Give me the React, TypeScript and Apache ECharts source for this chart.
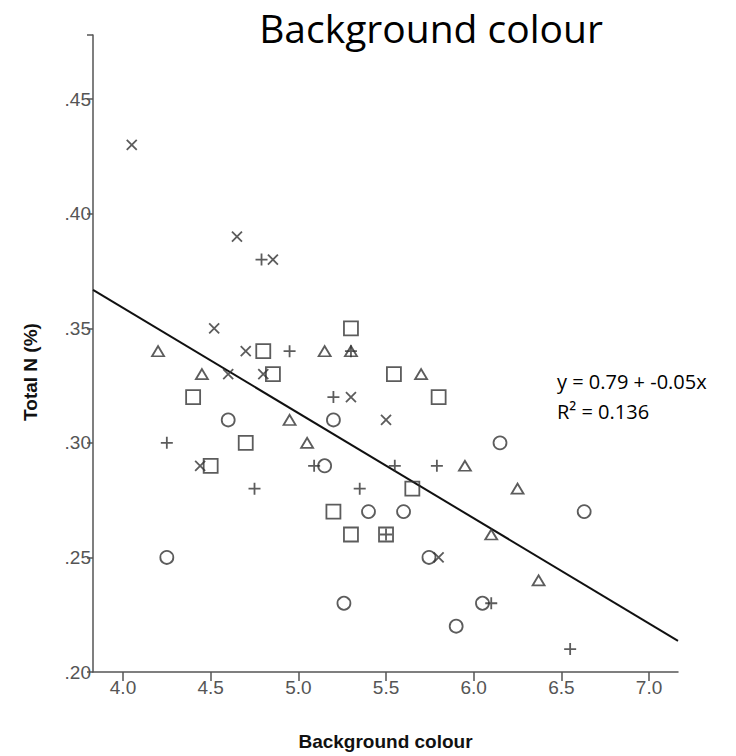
import React, { useEffect, useRef } from "react";
import * as echarts from "echarts";

const xTicks = [4.0, 4.5, 5.0, 5.5, 6.0, 6.5, 7.0];
const xRange = [3.829, 7.165];
const yRange = [0.2, 0.478];

const plusPts = [
  [4.79, 0.38], [4.95, 0.34], [5.3, 0.34], [5.2, 0.32], [4.25, 0.3], [5.09, 0.29],
  [5.55, 0.29], [5.79, 0.29], [4.75, 0.28], [5.35, 0.28], [5.5, 0.26], [6.1, 0.23], [6.55, 0.21],
];
const crossPts = [
  [4.05, 0.43], [4.65, 0.39], [4.855, 0.38], [4.52, 0.35], [4.7, 0.34], [4.6, 0.33],
  [4.8, 0.33], [5.3, 0.32], [5.5, 0.31], [4.44, 0.29], [5.8, 0.25],
];
const trianglePts = [
  [4.2, 0.34], [5.15, 0.34], [5.3, 0.34], [4.45, 0.33], [5.7, 0.33], [4.95, 0.31],
  [5.05, 0.3], [5.95, 0.29], [6.25, 0.28], [6.1, 0.26], [6.37, 0.24],
];
const squarePts = [
  [5.3, 0.35], [4.8, 0.34], [4.855, 0.33], [5.545, 0.33], [4.4, 0.32], [5.8, 0.32],
  [4.7, 0.3], [4.5, 0.29], [5.65, 0.28], [5.2, 0.27], [5.3, 0.26], [5.5, 0.26],
];
const circlePts = [
  [4.6, 0.31], [5.2, 0.31], [6.15, 0.3], [5.15, 0.29], [5.4, 0.27], [5.6, 0.27],
  [6.63, 0.27], [4.25, 0.25], [5.745, 0.25], [5.26, 0.23], [6.05, 0.23], [5.9, 0.22],
];

// fitted line as drawn
const lineIntercept = 0.5425;
const lineSlope = -0.0459;

const equationText = "y = 0.79 + -0.05x";
const r2Text = "R² = 0.136";

const MARK = "#333333";
const markStyle = { color: "rgba(0,0,0,0)", borderColor: MARK, borderWidth: 1.8 };
const tickFont = "Liberation Sans";

export default function App() {
  const ref = useRef<HTMLDivElement>(null);
  useEffect(() => {
    document.body.style.margin = "0";
    const chart = echarts.init(ref.current!, undefined, { renderer: "svg" });
    const lineData = xRange.map((x) => [x, lineIntercept + lineSlope * x]);
    chart.setOption({
      animation: false,
      backgroundColor: "#ffffff",
      title: {
        text: "Background colour",
        left: 431,
        top: 5,
        padding: 0,
        textAlign: "center",
        textStyle: { fontFamily: "Open Sans", fontSize: 39, lineHeight: 44, fontWeight: "normal", color: "#000" },
      },
      grid: { left: 93, right: 58, top: 35, bottom: 84 },
      xAxis: {
        type: "value",
        min: xRange[0],
        max: xRange[1],
        name: "Background colour",
        nameLocation: "middle",
        nameGap: 60,
        nameTextStyle: { fontFamily: "Liberation Sans", fontWeight: "bold", fontSize: 19, color: "#111" },
        axisLine: { lineStyle: { color: "#555", width: 1.5 } },
        axisTick: { show: true, customValues: xTicks, length: 9, lineStyle: { color: "#555", width: 1.5 } },
        axisLabel: {
          customValues: xTicks,
          formatter: (v: number) => v.toFixed(1),
          fontFamily: tickFont,
          fontSize: 19,
          color: "#555",
          margin: 6,
        },
        splitLine: { show: false },
      },
      yAxis: {
        type: "value",
        min: yRange[0],
        max: yRange[1],
        interval: 0.05,
        axisLine: { show: true, lineStyle: { color: "#555", width: 1.5 } },
        axisTick: { show: true, length: 6, lineStyle: { color: "#555", width: 1.5 } },
        axisLabel: {
          formatter: (v: number) => (v > 0.46 ? "" : v.toFixed(2).replace(/^0/, "")),
          fontFamily: tickFont,
          fontSize: 19,
          color: "#555",
          margin: 2,
        },
        splitLine: { show: false },
      },
      graphic: [
        {
          type: "text",
          x: 30,
          y: 372,
          rotation: Math.PI / 2,
          style: {
            text: "Total N (%)",
            fontFamily: "Liberation Sans",
            fontWeight: "bold",
            fontSize: 19,
            fill: "#111",
            align: "center",
            verticalAlign: "middle",
          },
        },
        {
          type: "text",
          x: 557,
          y: 381,
          style: { text: equationText, fontFamily: "Open Sans", fontSize: 20, fill: "#000", verticalAlign: "middle" },
        },
        {
          type: "text",
          x: 557,
          y: 411,
          style: { text: r2Text, fontFamily: "Open Sans", fontSize: 20, fill: "#000", verticalAlign: "middle" },
        },
      ],
      series: [
        {
          type: "line",
          data: lineData,
          symbol: "none",
          lineStyle: { color: "#111", width: 2 },
          z: 1,
        },
        {
          type: "scatter",
          data: circlePts,
          symbol: "circle",
          symbolSize: 13,
          itemStyle: markStyle,
          z: 3,
        },
        {
          type: "scatter",
          data: squarePts,
          symbol: "rect",
          symbolSize: 14,
          itemStyle: markStyle,
          z: 3,
        },
        {
          type: "scatter",
          data: trianglePts,
          symbol: "triangle",
          symbolSize: [12, 10],
          itemStyle: markStyle,
          z: 3,
        },
        {
          type: "scatter",
          data: plusPts,
          symbol: "path://M6,0L6,12M0,6L12,6",
          symbolSize: 12,
          symbolKeepAspect: true,
          itemStyle: markStyle,
          z: 4,
        },
        {
          type: "scatter",
          data: crossPts,
          symbol: "path://M0,0L10,10M10,0L0,10",
          symbolSize: 10,
          symbolKeepAspect: true,
          itemStyle: markStyle,
          z: 4,
        },
      ],
    });
    return () => chart.dispose();
  }, []);
  return <div ref={ref} style={{ width: 736, height: 756 }} />;
}
